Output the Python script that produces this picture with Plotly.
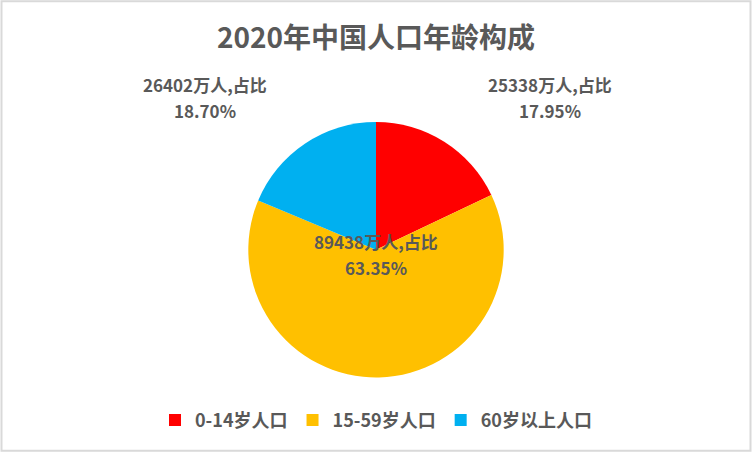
import plotly.graph_objects as go

# 2020 population by age group (10k people)
groups = ["0-14岁人口", "15-59岁人口", "60岁以上人口"]
population = [25338, 89438, 26402]
share_pct = [17.95, 63.35, 18.70]
colors = ["#FF0000", "#FFC000", "#00B0F0"]

FONT = "Noto Sans CJK SC"
GREY = "#595959"

fig = go.Figure(
    go.Pie(
        labels=groups,
        values=population,
        sort=False,
        direction="clockwise",
        rotation=0,
        marker=dict(colors=colors, line=dict(width=0)),
        textinfo="none",
        hoverinfo="label+value+percent",
        domain=dict(x=[0.3, 0.7], y=[0.165, 0.73]),
    )
)

# data labels placed the way the original chart shows them (two lines each)
label_pos = [(0.731, 0.812), (0.5, 0.465), (0.273, 0.812)]
for (x, y), pop, pct in zip(label_pos, population, share_pct):
    for line, dy in ((f"{pop}万人,占比", 0), (f"{pct:.2f}%", -0.056)):
        fig.add_annotation(
            x=x, y=y + dy, xref="paper", yref="paper",
            xanchor="center", yanchor="middle",
            text=line, showarrow=False,
            font=dict(family=FONT, size=17, color=GREY, weight="bold"),
        )

# light chart-area border
fig.add_shape(
    type="rect", xref="paper", yref="paper",
    x0=0.002, x1=0.998, y0=0.003, y1=0.997,
    line=dict(color="#D9D9D9", width=2),
)

fig.update_layout(
    width=752,
    height=452,
    margin=dict(l=0, r=0, t=0, b=0),
    paper_bgcolor="white",
    plot_bgcolor="white",
    title=dict(
        text="2020年中国人口年龄构成",
        x=0.5, y=0.915, xanchor="center", yanchor="middle",
        font=dict(family=FONT, size=28, color=GREY, weight="bold"),
    ),
    legend=dict(
        orientation="h",
        x=0.5, xanchor="center",
        y=0.07, yanchor="middle",
        font=dict(family=FONT, size=18, color=GREY, weight="bold"),
        itemwidth=30,
        traceorder="normal",
    ),
)

fig.write_html(
    "out.html",
    config={"displayModeBar": False},
    post_script="document.body.style.margin='0';",
)
